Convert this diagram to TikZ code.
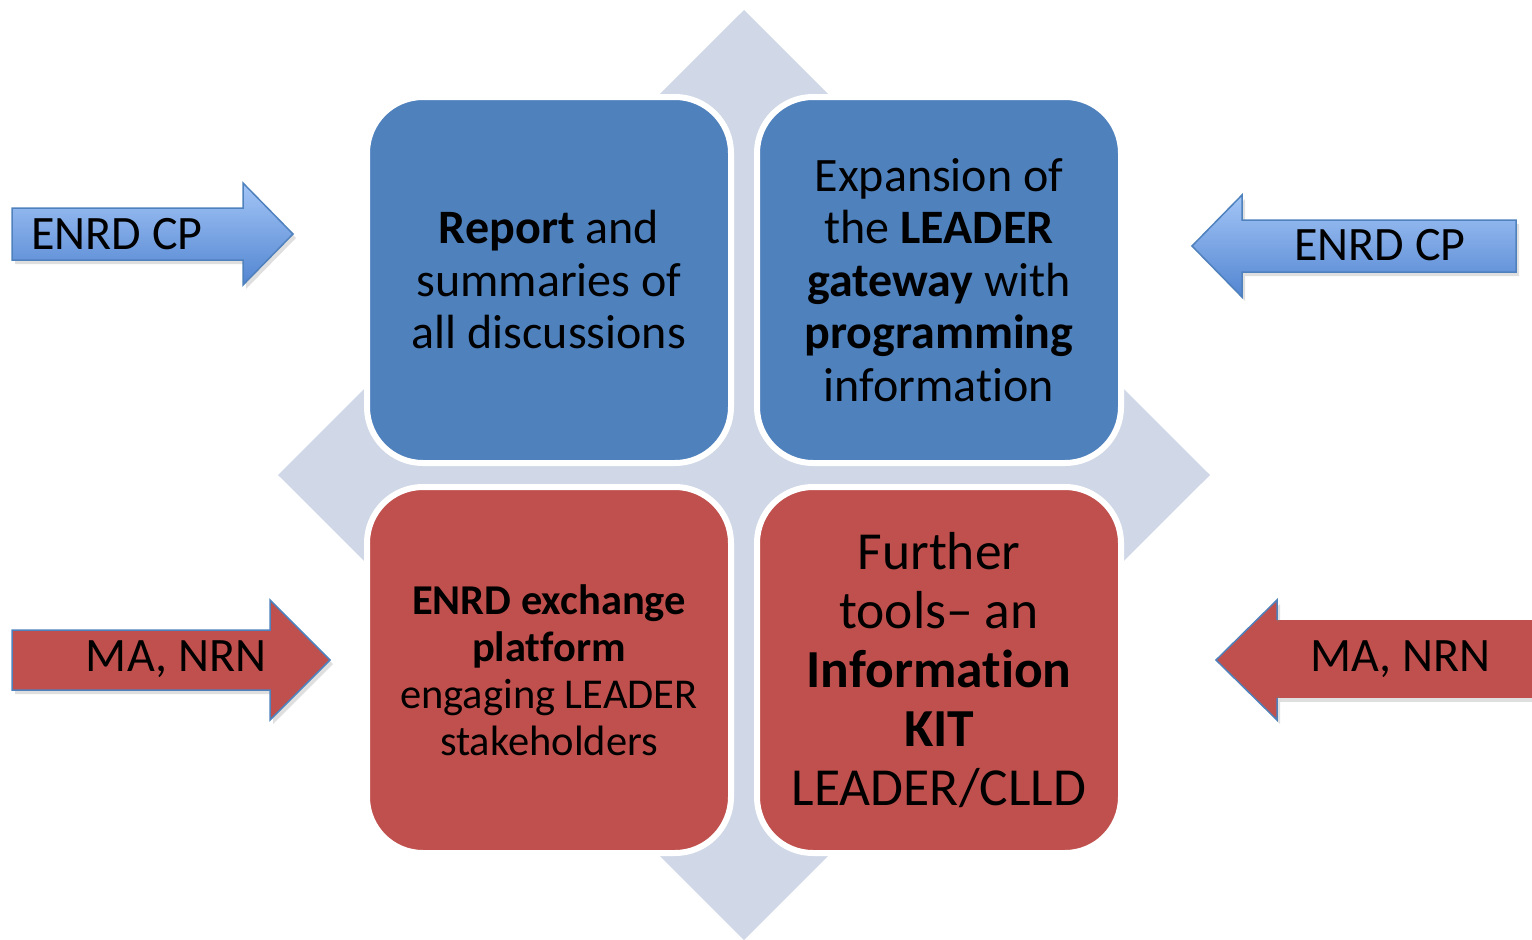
\documentclass[tikz,border=0pt]{standalone}
\usepackage{fontspec}
\setmainfont{Carlito}[Ligatures={TeX,NoCommon}]
\usetikzlibrary{positioning, shadows}
\definecolor{boxblue}{RGB}{79,129,189}
\definecolor{boxred}{RGB}{192,80,77}
\definecolor{diamondgray}{RGB}{208,216,232}
\definecolor{arrowlight}{RGB}{163,197,246}
\definecolor{arrowdark}{RGB}{82,133,209}
\tikzset{
	x=1pt, y=-1pt,
	box/.style={draw=white, line width=6pt, rounded corners=56pt,
		minimum width=364pt, minimum height=366pt, align=center, inner sep=0pt},
	bluebox/.style={box, fill=boxblue},
	redbox/.style={box, fill=boxred},
	toptext/.style={font=\fontsize{48}{52.5}\selectfont},
	platformtext/.style={font=\fontsize{42.5}{47}\selectfont},
	kittext/.style={font=\fontsize{53.5}{59}\selectfont},
	arrowtext/.style={font=\fontsize{48}{50}\selectfont, inner sep=0pt},
	arrowshadow/.style={drop shadow={opacity=0.25, shadow xshift=3pt, shadow yshift=-4pt}},
	bluearrow/.style={draw=boxblue, line width=1.5pt, top color=arrowlight, bottom color=arrowdark, arrowshadow},
	redarrow/.style={draw=boxblue, line width=1.5pt, fill=boxred, arrowshadow}}

\begin{document}
\begin{tikzpicture}
	\useasboundingbox (0,0) rectangle (1532,940);

	% background diamond
	\fill[diamondgray] (744,10) -- (1210,475) -- (744,940) -- (278,475) -- cycle;

	% the four boxes
	\node[bluebox, toptext] (report) at (549,280)
		{\textbf{Report} and\\summaries of\\all discussions};
	\node[bluebox, toptext] (gateway) at (939,280)
		{Expansion of\\the \textbf{LEADER}\\\textbf{gateway} with\\\textbf{programming}\\information};
	\node[redbox, platformtext] (platform) at (549,670)
		{\textbf{ENRD exchange}\\\textbf{platform}\\engaging LEADER\\stakeholders};
	\node[redbox, kittext] (kit) at (939,670)
		{Further\\tools-- an\\\textbf{Information}\\\textbf{KIT}\\LEADER/CLLD};

	% side arrows
	\draw[bluearrow] (12,208) -- (243,208) -- (243,183) -- (293,234)
		-- (243,285) -- (243,260) -- (12,260) -- cycle;
	\draw[bluearrow] (1516,220) -- (1242,220) -- (1242,195) -- (1192,246)
		-- (1242,297) -- (1242,272) -- (1516,272) -- cycle;
	\draw[redarrow] (12,630) -- (270,630) -- (270,600) -- (330,660)
		-- (270,720) -- (270,690) -- (12,690) -- cycle;
	\fill[boxred, arrowshadow] (1277,620) rectangle (1532,698);
	\filldraw[redarrow] (1277,620) -- (1277,600) -- (1216,660)
		-- (1277,720) -- (1277,698);
	\fill[boxred] (1270,622) rectangle (1532,696);

	\node[arrowtext] (cpleft) at (117,234) {ENRD CP};
	\node[arrowtext] (cpright) at (1380,245) {ENRD CP};
	\node[arrowtext] (maleft) at (176,659) {MA, NRN};
	\node[arrowtext] (maright) at (1400,659) {MA, NRN};
\end{tikzpicture}
\end{document}
